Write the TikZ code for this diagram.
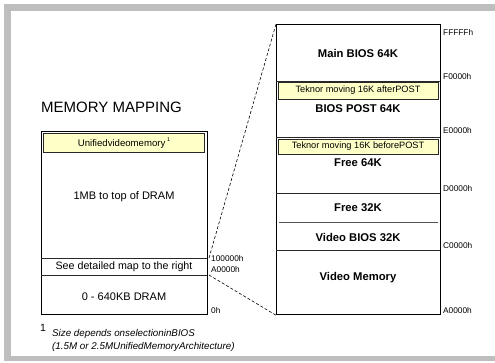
\documentclass[tikz,border=0pt]{standalone}
\usepackage{fontspec}
\setmainfont{Liberation Sans}
\definecolor{framegray}{RGB}{190,190,190}
\definecolor{note}{RGB}{255,255,200}
\definecolor{edge}{RGB}{40,40,40}
\begin{document}
\begin{tikzpicture}[x=1pt,y=-1pt,
  region/.style={draw=black,line width=1.2pt,inner sep=0pt,anchor=north west},
  notebox/.style={draw=edge,fill=note,line width=0.8pt,inner sep=0pt,anchor=north west},
  divider/.style={draw=edge,line width=0.8pt},
  thin divider/.style={draw=edge!80,line width=0.6pt},
  bigtxt/.style={font=\fontsize{11.25}{13}\selectfont\bfseries,inner sep=0pt},
  regtxt/.style={font=\fontsize{11}{13}\selectfont,inner sep=0pt},
  smalltxt/.style={font=\fontsize{9.2}{11}\selectfont,inner sep=0pt},
  addr/.style={font=\fontsize{8.3}{9}\selectfont,inner sep=0pt,anchor=west},
  zoomline/.style={dashed,dash pattern=on 3pt off 2pt,line width=0.6pt}]
\useasboundingbox (0,0) rectangle (495,362);
\fill[white] (0,0) rectangle (495,362);
\fill[framegray] (4,4) rectangle (495,361);
\fill[white] (11,10.5) rectangle (495,356);

% title
\node[font=\fontsize{15}{17}\selectfont,inner sep=0pt,anchor=west] (title) at (41,107) {MEMORY MAPPING};

% left map
\node[region,minimum width=166pt,minimum height=183pt] (lbox) at (41,131) {};
\node[notebox,minimum width=161pt,minimum height=19pt] (uvm) at (43,133) {};
\node[font=\fontsize{9.6}{11}\selectfont,inner sep=0pt] (uvmtxt) at (124,143) {Unifiedvideomemory\,\raisebox{0.45em}{\fontsize{5.5}{6}\selectfont 1}};
\node[regtxt] (dram) at (124,197) {1MB to top of DRAM};
\coordinate (l100) at (207,258);
\coordinate (lA0) at (207,275);
\draw[divider] (41,258) -- (l100);
\draw[divider] (41,275) -- (lA0);
\node[font=\fontsize{10.7}{12}\selectfont,inner sep=0pt] (see) at (124,267) {See detailed map to the right};
\node[regtxt] (low) at (124,297) {0 - 640KB DRAM};
\node[addr] (a100) at (211,259) {100000h};
\node[addr] (aA0l) at (211,270) {A0000h};
\node[addr] (a0) at (211,311) {0h};

% footnote
\node[font=\fontsize{10.5}{12}\selectfont,inner sep=0pt,anchor=west] (fn1) at (40,328) {1};
\node[font=\fontsize{9.8}{12}\selectfont\itshape,inner sep=0pt,anchor=west] (fnA) at (52,334) {Size depends onselectioninBIOS};
\node[font=\fontsize{9.8}{12}\selectfont\itshape,inner sep=0pt,anchor=west] (fnB) at (52,347) {(1.5M or 2.5MUnifiedMemoryArchitecture)};

% right map
\node[region,minimum width=164pt,minimum height=290pt] (rbox) at (276,24) {};
\draw[divider] (276,81) -- (440,81);
\draw[divider] (276,137) -- (440,137);
\draw[divider] (276,193) -- (440,193);
\draw[divider] (276,250) -- (440,250);
\draw[thin divider] (279,222) -- (438,222);
\node[notebox,minimum width=160pt,minimum height=17pt] (after) at (278,82) {};
\node[smalltxt] (aftertxt) at (358,90.5) {Teknor moving 16K afterPOST};
\node[notebox,minimum width=160pt,minimum height=14.5pt] (before) at (278,139) {};
\node[smalltxt] (beforetxt) at (358,146.2) {Teknor moving 16K beforePOST};
\node[bigtxt] (mainbios) at (358,53) {Main BIOS 64K};
\node[bigtxt] (biospost) at (358,109) {BIOS POST 64K};
\node[bigtxt] (free64) at (358,163) {Free 64K};
\node[bigtxt] (free32) at (358,208) {Free 32K};
\node[bigtxt] (vbios) at (358,237) {Video BIOS 32K};
\node[bigtxt] (vmem) at (358,278) {Video Memory};
\node[addr] (aF) at (443,32) {FFFFFh};
\node[addr] (aF0) at (443,77) {F0000h};
\node[addr] (aE0) at (443,131) {E0000h};
\node[addr] (aD0) at (443,189) {D0000h};
\node[addr] (aC0) at (443,246) {C0000h};
\node[addr] (aA0r) at (443,311) {A0000h};

% zoom connectors
\draw[zoomline] (l100) ++(2,0) -- (rbox.north west);
\draw[zoomline] (lA0) ++(2,0) -- (rbox.south west);
\end{tikzpicture}
\end{document}
